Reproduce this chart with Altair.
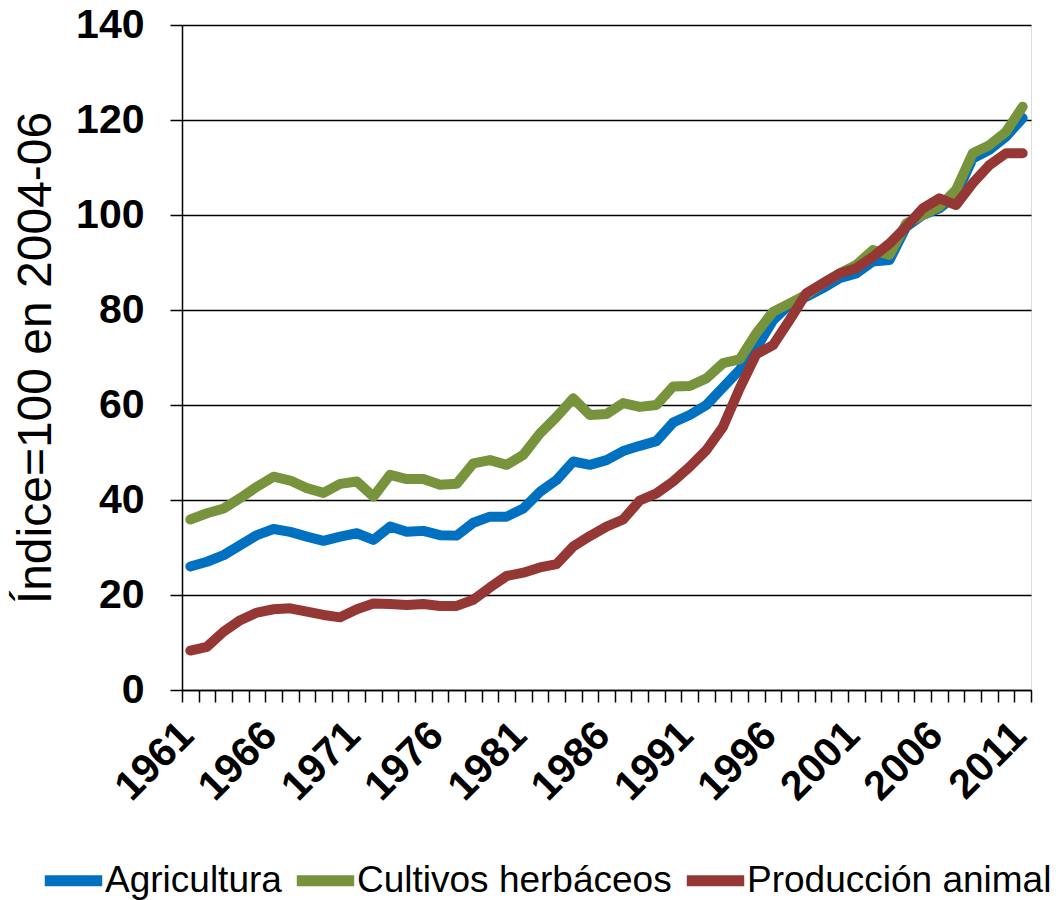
import altair as alt
import pandas as pd

years = list(range(1961, 2012))

agricultura = [26.0, 27.0, 28.4, 30.5, 32.6, 33.9, 33.3, 32.3, 31.4, 32.3,
               33.0, 31.6, 34.4, 33.3, 33.5, 32.6, 32.5, 35.2, 36.5, 36.5,
               38.2, 41.7, 44.2, 48.1, 47.4, 48.4, 50.3, 51.4, 52.4, 56.3,
               57.9, 60.0, 63.7, 67.4, 72.0, 77.8, 81.2, 82.8, 84.6, 86.7,
               87.7, 90.2, 90.5, 97.5, 100.0, 101.4, 104.2, 111.9, 113.7, 116.5,
               120.4]

cultivos = [35.9, 37.2, 38.2, 40.4, 42.8, 44.9, 44.1, 42.5, 41.5, 43.4,
            43.9, 40.7, 45.3, 44.4, 44.4, 43.2, 43.4, 47.7, 48.4, 47.4,
            49.5, 54.0, 57.5, 61.4, 57.9, 58.1, 60.4, 59.6, 60.0, 63.9,
            64.0, 65.6, 68.8, 69.6, 75.1, 79.6, 81.4, 83.2, 85.6, 87.7,
            89.5, 92.6, 91.6, 98.2, 100.0, 101.8, 105.3, 113.0, 114.7, 117.5,
            122.8]

produccion = [8.3, 9.1, 12.3, 14.7, 16.3, 17.0, 17.2, 16.5, 15.8, 15.3,
              17.0, 18.2, 18.1, 17.9, 18.1, 17.7, 17.7, 19.0, 21.6, 24.0,
              24.7, 25.8, 26.5, 30.2, 32.4, 34.4, 35.9, 39.9, 41.4, 43.9,
              47.0, 50.5, 55.4, 63.5, 70.7, 72.6, 77.9, 83.5, 85.6, 87.7,
              88.8, 91.2, 94.0, 97.5, 101.4, 103.5, 102.1, 106.7, 110.5, 113.0,
              113.0]

series_names = ["Agricultura", "Cultivos herbáceos", "Producción animal"]
series_colors = ["#0070C0", "#77933C", "#953735"]
y_ticks = [0, 20, 40, 60, 80, 100, 120, 140]

rows = []
for name, vals in zip(series_names, [agricultura, cultivos, produccion]):
    for yr, v in zip(years, vals):
        rows.append({"Año": yr, "Índice": v, "Serie": name})
df = pd.DataFrame(rows)

# category boundaries (Excel-style ticks between categories)
boundaries = [y - 0.5 for y in years] + [years[-1] + 0.5]

FONT = "Liberation Sans"

x_axis = alt.Axis(
    values=boundaries,
    labelExpr="(datum.value + 0.5 - 1961) % 5 == 0 ? toString(datum.value + 0.5) : ''",
    labelOffset=5,
    labelAngle=315,
    labelAlign="right",
    labelBaseline="middle",
    labelFont=FONT,
    labelFontSize=41,
    labelFontWeight="bold",
    labelColor="black",
    labelPadding=27,
    labelOverlap=False,
    labelFlush=False,
    tickSize=12,
    tickColor="black",
    tickWidth=1.5,
    domainColor="black",
    domainWidth=1.5,
    grid=False,
    title=None,
)

y_axis = alt.Axis(
    values=y_ticks,
    grid=True,
    gridColor="black",
    gridWidth=1.5,
    tickSize=12,
    tickColor="black",
    tickWidth=1.5,
    domainColor="black",
    domainWidth=1.5,
    labelFont=FONT,
    labelFontSize=41,
    labelFontWeight="bold",
    labelColor="black",
    labelPadding=26,
    title="Índice=100 en 2004-06",
    titleFont=FONT,
    titleFontSize=48,
    titleFontWeight="normal",
    titleColor="black",
    titlePadding=15,
)

legend = alt.Legend(
    orient="none",
    legendX=-143,
    legendY=821,
    direction="horizontal",
    title=None,
    labelFont=FONT,
    labelFontSize=37,
    labelColor="black",
    labelLimit=0,
    symbolType="stroke",
    symbolStrokeWidth=11,
    symbolSize=3300,
    labelOffset=alt.ExprRef(expr="-3"),
    columnPadding=alt.ExprRef(expr="-8"),
)

chart = alt.Chart(df).mark_line(
    strokeWidth=10, strokeCap="round", strokeJoin="round"
).encode(
    x=alt.X("Año:Q", scale=alt.Scale(domain=[1960.5, 2011.5], nice=False, zero=False), axis=x_axis),
    y=alt.Y("Índice:Q", scale=alt.Scale(domain=[0, 140], nice=False), axis=y_axis),
    color=alt.Color("Serie:N", scale=alt.Scale(domain=series_names, range=series_colors),
                    sort=series_names, legend=legend),
).properties(
    width=849,
    height=665,
    autosize=alt.AutoSizeParams(type="none"),
    padding={"left": 174, "top": 17, "right": 22, "bottom": 210},
).configure_view(stroke=None).configure(background="white")

chart.save("out.html", embed_options={"renderer": "svg", "actions": False})
